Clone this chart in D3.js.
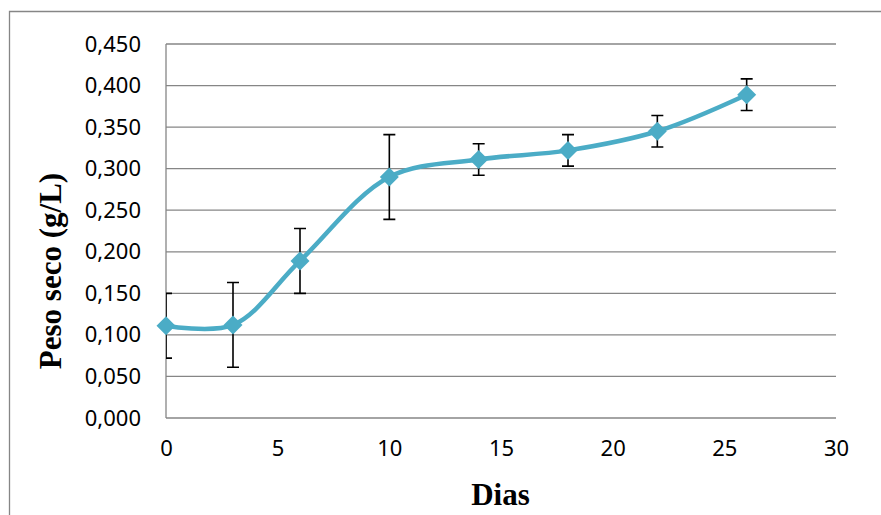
<!DOCTYPE html>
<html lang="pt">
<head>
  <meta charset="UTF-8">
  <title>Peso seco ao longo dos dias</title>
  <script src="https://d3js.org/d3.v7.min.js"></script>
  <style>
    body { margin: 0; background: #fff; }
    .tick text { font-family: "Noto Sans", sans-serif; font-size: 22px; fill: #000; }
    .grid line { stroke: #868686; stroke-width: 1.3; }
    .axis-title { font-family: "Liberation Serif", "Times New Roman", serif; font-weight: bold; font-size: 31px; fill: #000; }
    .line { fill: none; stroke: #4bacc6; stroke-width: 4.5; }
    .dot { fill: #4bacc6; }
    .err { stroke: #000; stroke-width: 1.6; fill: none; }
  </style>
</head>
<body>
  <svg width="881" height="515"></svg>
  <script>
    // data
    const days = [0, 3, 6, 10, 14, 18, 22, 26];
    const pesoSeco = [0.111, 0.112, 0.189, 0.290, 0.311, 0.322, 0.345, 0.389];
    const erro = [0.039, 0.051, 0.039, 0.051, 0.019, 0.019, 0.019, 0.019];
    const xTicks = [0, 5, 10, 15, 20, 25, 30];
    const yTicks = [0, 0.05, 0.1, 0.15, 0.2, 0.25, 0.3, 0.35, 0.4, 0.45];

    const data = days.map((d, i) => ({ day: d, peso: pesoSeco[i], err: erro[i] }));

    const svg = d3.select("svg");
    const margin = { top: 44, right: 45, bottom: 97, left: 166 };
    const width = 881 - margin.left - margin.right,
          height = 515 - margin.top - margin.bottom;

    // outer chart frame (top and left edges visible)
    svg.append("path")
      .attr("d", "M9.5,515 V11.5 H881")
      .attr("fill", "none")
      .attr("stroke", "#868686")
      .attr("stroke-width", 1.3);

    const g = svg.append("g").attr("transform", `translate(${margin.left},${margin.top})`);

    const x = d3.scaleLinear().domain([0, 30]).range([0, width]);
    const y = d3.scaleLinear().domain([0, 0.45]).range([height, 0]);

    // horizontal gridlines
    g.append("g").attr("class", "grid")
      .selectAll("line").data(yTicks).enter().append("line")
      .attr("x1", 0).attr("x2", width)
      .attr("y1", d => y(d)).attr("y2", d => y(d));

    // left axis line
    g.append("line").attr("class", "grid")
      .attr("x1", 0).attr("x2", 0).attr("y1", 0).attr("y2", height)
      .attr("stroke", "#868686").attr("stroke-width", 1.3);

    const fmt = d => d3.format(".3f")(d).replace(".", ",");
    const yAxis = g.append("g")
      .call(d3.axisLeft(y).tickValues(yTicks).tickFormat(fmt).tickSize(0).tickPadding(25));
    yAxis.select(".domain").remove();

    const xAxis = g.append("g")
      .attr("transform", `translate(0,${height})`)
      .call(d3.axisBottom(x).tickValues(xTicks).tickFormat(d3.format("d")).tickSize(0).tickPadding(22));
    xAxis.select(".domain").remove();

    // clip error bars to plot area
    svg.append("defs").append("clipPath").attr("id", "plotclip")
      .append("rect").attr("x", 0).attr("y", -20).attr("width", width + 20).attr("height", height + 40);

    const errG = g.append("g").attr("clip-path", "url(#plotclip)");
    const cap = 6;
    errG.selectAll(".err").data(data).enter().append("path")
      .attr("class", "err")
      .attr("d", d => {
        const cx = x(d.day), yt = y(d.peso + d.err), yb = y(d.peso - d.err);
        return `M${cx},${yt}V${yb}M${cx - cap},${yt}H${cx + cap}M${cx - cap},${yb}H${cx + cap}`;
      });

    const line = d3.line()
      .x(d => x(d.day))
      .y(d => y(d.peso))
      .curve(d3.curveCatmullRom.alpha(0.5));

    g.append("path").datum(data).attr("class", "line").attr("d", line);

    g.selectAll(".dot").data(data).enter().append("path")
      .attr("class", "dot")
      .attr("transform", d => `translate(${x(d.day)},${y(d.peso)})`)
      .attr("d", "M0,-9.5L9.5,0L0,9.5L-9.5,0Z");

    // axis titles
    svg.append("text").attr("class", "axis-title")
      .attr("x", margin.left + width / 2 - 0.5)
      .attr("y", 505)
      .attr("text-anchor", "middle")
      .text("Dias");

    svg.append("text").attr("class", "axis-title")
      .attr("transform", "translate(61,271) rotate(-90)")
      .attr("text-anchor", "middle")
      .text("Peso seco (g/L)");
  </script>
</body>
</html>
